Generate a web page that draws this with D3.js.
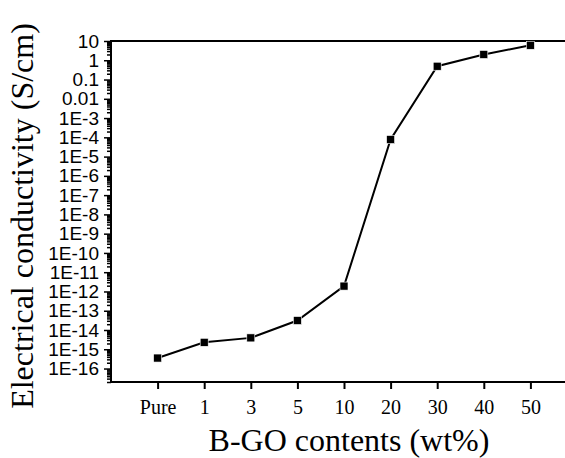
<!DOCTYPE html>
<html><head><meta charset="utf-8">
<script src="https://cdn.jsdelivr.net/npm/d3@7/dist/d3.min.js"></script>
<style>
html,body{margin:0;padding:0;background:#fff;}
svg{display:block;}
</style></head>
<body><svg id="chart" width="565" height="458"></svg>
<script>
const categories = ["Pure", "1", "3", "5", "10", "20", "30", "40", "50"];
const conductivity = [3.5e-16, 2.3e-15, 3.9e-15, 3.1e-14, 1.9e-12, 7.7e-5, 0.49, 2.0, 6.0];
const yMajorExponents = [1, 0, -1, -2, -3, -4, -5, -6, -7, -8, -9, -10, -11, -12, -13, -14, -15, -16];
const yTickLabels = ["10", "1", "0.1", "0.01", "1E-3", "1E-4", "1E-5", "1E-6", "1E-7", "1E-8", "1E-9", "1E-10", "1E-11", "1E-12", "1E-13", "1E-14", "1E-15", "1E-16"];
const xTitle = "B-GO contents (wt%)";
const yTitle = "Electrical conductivity (S/cm)";

(function () {
const svg = d3.select("#chart");
const mL = 111, mR = 577, mT = 41, mB = 382;

const x = d3.scalePoint().domain(categories).range([mL, mR]).padding(1);
const y = d3.scaleLog().domain([2e-17, 10]).range([mB, mT]);

// frame
svg.append("rect").attr("x", mL).attr("y", mT).attr("width", mR - mL).attr("height", mB - mT)
  .attr("fill", "none").attr("stroke", "#000").attr("stroke-width", 2);

// minor ticks
const minor = [];
for (let e = -17; e <= 0; e++) for (let k = 2; k <= 9; k++) { const v = k * Math.pow(10, e); if (v >= 2e-17 && v <= 10) minor.push(v); }
const majorVals = yMajorExponents.map(e => Math.pow(10, e));
const labelMap = new Map(majorVals.map((v, i) => [v, yTickLabels[i]]));

const gyMinor = svg.append("g").attr("transform", `translate(${mL},0)`)
  .call(d3.axisLeft(y).tickValues(minor).tickSize(4).tickFormat(""));
const gy = svg.append("g").attr("transform", `translate(${mL},0)`)
  .call(d3.axisLeft(y).tickValues(majorVals).tickSize(7).tickPadding(5).tickFormat(v => labelMap.get(v)));
[gyMinor, gy].forEach(g => { g.select(".domain").remove(); g.selectAll("line").attr("stroke", "#000").attr("stroke-width", 1.5); });
gy.selectAll("text").attr("font-family", "'Liberation Sans', Arial, sans-serif").attr("font-size", 19).attr("fill", "#000");

const gx = svg.append("g").attr("transform", `translate(0,${mB})`)
  .call(d3.axisBottom(x).tickSize(7).tickPadding(11));
gx.select(".domain").remove();
gx.selectAll("line").attr("stroke", "#000").attr("stroke-width", 2);
gx.selectAll("text").attr("font-family", "'Liberation Serif', 'Times New Roman', serif").attr("font-size", 20).attr("fill", "#000");

// line
const pts = categories.map((c, i) => ({ c, v: conductivity[i] }));
svg.append("path").datum(pts)
  .attr("fill", "none").attr("stroke", "#000").attr("stroke-width", 2)
  .attr("d", d3.line().x(d => x(d.c)).y(d => y(d.v)));

svg.selectAll("rect.pt").data(pts).enter().append("rect").attr("class", "pt")
  .attr("x", d => x(d.c) - 4).attr("y", d => y(d.v) - 4).attr("width", 8).attr("height", 8)
  .attr("fill", "#000").attr("stroke", "#fff").attr("stroke-width", 0.6);

// titles
svg.append("text").attr("x", 349).attr("y", 451).attr("text-anchor", "middle")
  .attr("font-family", "'Liberation Serif', 'Times New Roman', serif").attr("font-size", 32).text(xTitle);
svg.append("text").attr("transform", "translate(33,216) rotate(-90)").attr("text-anchor", "middle")
  .attr("font-family", "'Liberation Serif', 'Times New Roman', serif").attr("font-size", 32).text(yTitle);
})();
</script></body></html>
